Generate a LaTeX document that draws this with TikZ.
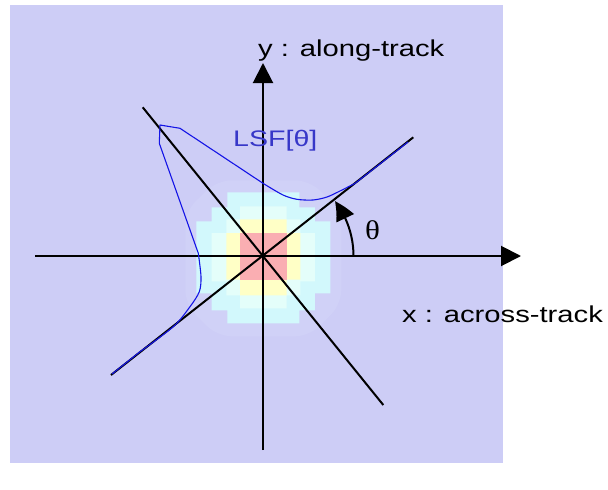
\documentclass[tikz,border=0pt]{standalone}
\usepackage{fontspec}
\setmainfont{Liberation Sans}
\newfontfamily\labfont[FakeStretch=1.27]{Liberation Sans}
\newfontfamily\thfont[FakeStretch=1.15]{Liberation Serif}
\usetikzlibrary{arrows.meta,bending}
\definecolor{bgc}{RGB}{205,205,246}
\definecolor{haloc}{RGB}{208,209,247}
\definecolor{cyanc}{RGB}{210,248,252}
\definecolor{palec}{RGB}{228,254,250}
\definecolor{yelc}{RGB}{255,255,198}
\definecolor{redc}{RGB}{250,174,178}
\definecolor{lsfc}{RGB}{55,55,200}
\definecolor{curvec}{RGB}{20,20,230}
\begin{document}
\begin{tikzpicture}[x=1pt,y=-1pt,
  axisline/.style={line width=2pt,-{Triangle[length=20pt,width=20pt]}},
  diagline/.style={line width=2pt},
  anglearrow/.style={line width=2pt,-{Triangle[length=20pt,width=19pt,bend]}},
  lsfcurve/.style={curvec,line width=1.1pt,line join=round},
  lab/.style={inner sep=0pt,font=\labfont\fontsize{23}{27}\selectfont},
  lsflab/.style={inner sep=0pt,text=lsfc,font=\labfont\fontsize{22.5}{26}\selectfont},
  thlab/.style={inner sep=0pt,font=\thfont\fontsize{27}{30}\selectfont}]
\useasboundingbox (0,0) rectangle (608,490);
\fill[white] (0,0) rectangle (608,490);
\fill[bgc] (10,5) rectangle (503,463);
% heat map
\begin{scope}[shift={(263.3,256.3)}]
\fill[haloc,rounded corners=14pt] (-78,-45) -- (-78,48) -- (-46,80) -- (46,80) -- (78,48) -- (78,-45) -- (46,-76) -- (-46,-76) -- cycle;
\fill[cyanc] (67,-35) -- (67,37) -- (51.6,37) -- (51.6,54) -- (36,54) -- (36,67) -- (-36,67) -- (-36,54) -- (-51.6,54) -- (-51.6,37) -- (-67,37) -- (-67,-35) -- (-51.6,-35) -- (-51.6,-49) -- (-36,-49) -- (-36,-64) -- (36,-64) -- (36,-49) -- (51.6,-49) -- (51.6,-35) -- cycle;
\fill[palec] (51.6,-23.3) -- (51.6,25) -- (37,25) -- (37,39) -- (23.3,39) -- (23.3,52) -- (-23.3,52) -- (-23.3,39) -- (-37,39) -- (-37,25) -- (-51.6,25) -- (-51.6,-23.3) -- (-37,-23.3) -- (-37,-37) -- (-23.3,-37) -- (-23.3,-50) -- (23.3,-50) -- (23.3,-37) -- (37,-37) -- (37,-23.3) -- cycle;
\fill[yelc] (37,-23.3) -- (37,23.3) -- (23.3,23.3) -- (23.3,39) -- (-23.3,39) -- (-23.3,23.3) -- (-37,23.3) -- (-37,-23.3) -- (-23.3,-23.3) -- (-23.3,-37) -- (23.3,-37) -- (23.3,-23.3) -- cycle;
\fill[redc] (-23.3,-23.3) rectangle (23.3,23.3);
\end{scope}
% coordinates
\coordinate (O) at (263,256);
\coordinate (xL) at (35,256);
\coordinate (xR) at (521,256);
\coordinate (yB) at (263,450);
\coordinate (yT) at (263,63);
\coordinate (d1a) at (142.7,107.3);
\coordinate (d1b) at (383.3,405);
\coordinate (d2a) at (111,375);
\coordinate (d2b) at (413.3,137.3);
% lines
\draw[diagline] (d1a) -- (d1b);
\draw[diagline] (d2a) -- (d2b);
\draw[axisline] (xL) -- (xR);
\draw[axisline] (yB) -- (yT);
% angle arrow
\draw[anglearrow] (353.5,256) arc[start angle=0,end angle=37.3,radius=90.5pt];
% LSF curve
\draw[lsfcurve] (408,142) -- (355,183.4)
  -- plot[smooth,tension=0.5] coordinates {(355,183.4) (340,191) (327,197) (313,200) (297,199.3) (283,195) (263,183.3)}
  -- (180,128.3) -- (160,125) -- (159.3,143.3) -- (198.3,253.3)
  -- plot[smooth,tension=0.5] coordinates {(198.3,253.3) (201,276.7) (199.3,291.7) (190,306.7) (173.3,326.7) (140,351.7)}
  -- (112,374);
% labels
\node[lab,anchor=base west] (ylab) at (258,56) {y : along-track};
\node[lab,anchor=base west] (xlab) at (402,322.7) {x : across-track};
\node[lsflab,anchor=base west] (lsf) at (233,146.7) {LSF[θ]};
\node[thlab] (theta) at (372.5,230) {θ};
\end{tikzpicture}
\end{document}
